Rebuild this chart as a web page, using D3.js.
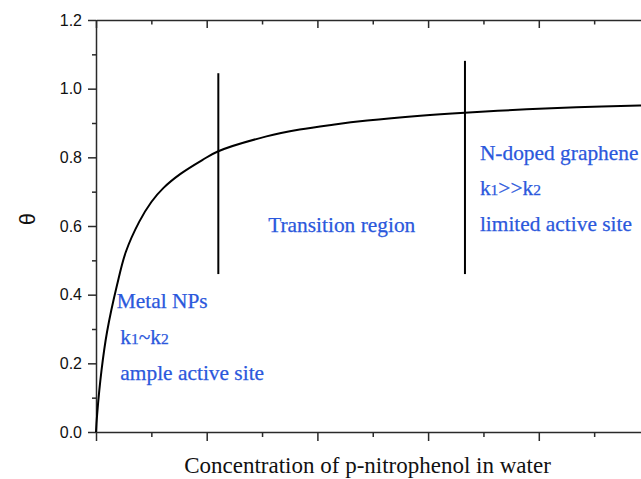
<!DOCTYPE html>
<html>
<head>
<meta charset="utf-8">
<script src="https://cdn.jsdelivr.net/npm/d3@7"></script>
<style>
  html, body { margin: 0; padding: 0; background: #fff; overflow: hidden; }
  svg { display: block; }
</style>
</head>
<body>
<svg id="chart" width="641" height="479"></svg>
<script>
// ---- data ----
const concentration = [0, 0.01, 0.05, 0.10, 0.19, 0.27, 0.39, 0.50, 0.61, 0.76, 0.96, 1.10, 1.54, 1.84, 2.14, 2.45, 2.93, 3.33, 3.89, 4.34, 4.91, 5.0];
const theta = [0, 0.05, 0.18, 0.292, 0.428, 0.525, 0.612, 0.670, 0.711, 0.751, 0.792, 0.817, 0.861, 0.881, 0.895, 0.907, 0.921, 0.930, 0.940, 0.946, 0.951, 0.952];
const yTicks = [0.0, 0.2, 0.4, 0.6, 0.8, 1.0, 1.2];
const yMinorTicks = [0.1, 0.3, 0.5, 0.7, 0.9, 1.1];
const xTicks = [0, 1, 2, 3, 4, 5];
const xMinorTicks = [0.5, 1.5, 2.5, 3.5, 4.5];
const dividerX = [1.105, 3.333];
const dividerTop = [1.045, 1.081];
const dividerBottom = [0.46, 0.46];
const xTitle = "Concentration of p-nitrophenol in water";
const yTitle = "θ";

(function () {
// ---- layout ----
const svg = d3.select("#chart");
const mLeft = 96, mTop = 20, mRight = 649.5, mBottom = 432;
const x = d3.scaleLinear().domain([0, 5]).range([mLeft, mRight]);
const y = d3.scaleLinear().domain([0, 1.2]).range([mBottom, mTop]);
const axisColor = "#2a2a2a";
const blue = "#2b58dc";
const sans = "'Liberation Sans', Arial, sans-serif";
const serif = "'Liberation Serif', 'Times New Roman', serif";

function styleAxis(g) {
  g.select(".domain").attr("stroke", axisColor).attr("stroke-width", 1.5);
  g.selectAll(".tick line").attr("stroke", axisColor).attr("stroke-width", 1.5);
}

// left axis: major + minor outward
const gl = svg.append("g").attr("transform", `translate(${mLeft},0)`)
  .call(d3.axisLeft(y).tickValues(yTicks).tickFormat(d3.format(".1f")).tickSizeInner(8).tickSizeOuter(0).tickPadding(6));
styleAxis(gl);
gl.selectAll(".tick text").attr("font-family", sans).attr("font-size", 16).attr("fill", "#111");
const glm = svg.append("g").attr("transform", `translate(${mLeft},0)`)
  .call(d3.axisLeft(y).tickValues(yMinorTicks).tickFormat("").tickSizeInner(4).tickSizeOuter(0));
styleAxis(glm); glm.select(".domain").remove();

// bottom axis: ticks outward, no labels
const gb = svg.append("g").attr("transform", `translate(0,${mBottom})`)
  .call(d3.axisBottom(x).tickValues(xTicks).tickFormat("").tickSizeInner(9).tickSizeOuter(0));
styleAxis(gb);
const gbm = svg.append("g").attr("transform", `translate(0,${mBottom})`)
  .call(d3.axisBottom(x).tickValues(xMinorTicks).tickFormat("").tickSizeInner(5).tickSizeOuter(0));
styleAxis(gbm); gbm.select(".domain").remove();

// top axis: ticks inward (pointing down)
const gt = svg.append("g").attr("transform", `translate(0,${mTop})`)
  .call(d3.axisTop(x).tickValues(xTicks).tickFormat("").tickSizeInner(-8).tickSizeOuter(0));
styleAxis(gt);
const gtm = svg.append("g").attr("transform", `translate(0,${mTop})`)
  .call(d3.axisTop(x).tickValues(xMinorTicks).tickFormat("").tickSizeInner(-4.5).tickSizeOuter(0));
styleAxis(gtm); gtm.select(".domain").remove();

// right axis (mostly outside view)
const gr = svg.append("g").attr("transform", `translate(${mRight},0)`)
  .call(d3.axisRight(y).tickValues(yTicks).tickFormat("").tickSizeInner(-8).tickSizeOuter(0));
styleAxis(gr);

// ---- curve ----
const pts = concentration.map((c, i) => [c, theta[i]]);
svg.append("path")
  .datum(pts)
  .attr("fill", "none")
  .attr("stroke", "#000")
  .attr("stroke-width", 2)
  .attr("stroke-linejoin", "round")
  .attr("d", d3.line().x(d => x(d[0])).y(d => y(d[1])).curve(d3.curveCatmullRom.alpha(0.5)));

// ---- divider lines ----
svg.selectAll("line.divider")
  .data(dividerX)
  .join("line")
  .attr("class", "divider")
  .attr("x1", d => x(d)).attr("x2", d => x(d))
  .attr("y1", (d, i) => y(dividerTop[i]))
  .attr("y2", (d, i) => y(dividerBottom[i]))
  .attr("stroke", "#000").attr("stroke-width", 2);

// ---- region labels ----
function label(px, py, parts) {
  const t = svg.append("text")
    .attr("x", px).attr("y", py)
    .attr("font-family", serif).attr("font-size", 21.4).attr("fill", blue)
    .attr("stroke", blue).attr("stroke-width", 0.25);
  parts.forEach(p => {
    if (typeof p === "string") t.append("tspan").text(p);
    else t.append("tspan").attr("font-size", p.size).text(p.t);
  });
  return t;
}
label(x(0.187), 308, ["Metal NPs"]);
label(x(0.22), 344, ["k", {t: "1", size: 15.5}, "~k", {t: "2", size: 15.5}]);
label(x(0.22), 380, ["ample active site"]);
label(x(1.555), 232, ["Transition region"]);
label(x(3.468), 159.5, ["N-doped graphene"]);
label(x(3.468), 195, ["k", {t: "1", size: 15.5}, ">>k", {t: "2", size: 15.5}]);
label(x(3.468), 230.5, ["limited active site"]);

// ---- axis titles ----
svg.append("text")
  .attr("x", 367.5).attr("y", 472.5)
  .attr("text-anchor", "middle")
  .attr("font-family", serif).attr("font-size", 23).attr("fill", "#111")
  .text(xTitle);

svg.append("text")
  .attr("transform", "translate(35,219) rotate(-90)")
  .attr("text-anchor", "middle")
  .attr("font-family", sans).attr("font-size", 22).attr("fill", "#111")
  .text(yTitle);
})();
</script>
</body>
</html>
